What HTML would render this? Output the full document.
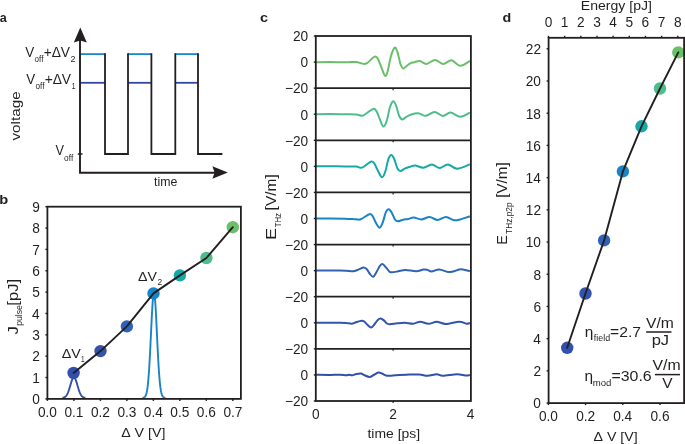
<!DOCTYPE html>
<html><head><meta charset="utf-8"><style>
html,body{margin:0;padding:0;background:#fff;}
svg{display:block;will-change:transform;}
text{font-family:"Liberation Sans", sans-serif;fill:#231f20;font-kerning:none;}
</style></head><body>
<svg width="685" height="444" viewBox="0 0 685 444">
<rect width="685" height="444" fill="#fff"/>
<text transform="translate(-0.17,22.1) scale(0.9239,1.0000)" font-size="13.6" font-weight="bold">a</text>
<line x1="80" y1="54.1" x2="105" y2="54.1" stroke="#1a8acb" stroke-width="1.8"/>
<line x1="80" y1="82.8" x2="105" y2="82.8" stroke="#3148a0" stroke-width="1.8"/>
<line x1="128" y1="54.1" x2="151.4" y2="54.1" stroke="#1a8acb" stroke-width="1.8"/>
<line x1="128" y1="82.8" x2="151.4" y2="82.8" stroke="#3148a0" stroke-width="1.8"/>
<line x1="175.3" y1="54.1" x2="198" y2="54.1" stroke="#1a8acb" stroke-width="1.8"/>
<line x1="175.3" y1="82.8" x2="198" y2="82.8" stroke="#3148a0" stroke-width="1.8"/>
<path d="M105,53.2 V154 H128 V53.2 M151.4,53.2 V154 H175.3 V53.2 M198,53.2 V154 H222.4" fill="none" stroke="#231f20" stroke-width="1.8"/>
<path d="M80,40 V172.7 H215" fill="none" stroke="#231f20" stroke-width="1.9"/>
<path d="M80.3,27.6 L86.8,42.6 L80.3,40.4 L73.8,42.6 Z" fill="#231f20"/>
<path d="M227.8,172.6 L212.4,178.8 L214.6,172.6 L212.4,166.3 Z" fill="#231f20"/>
<line x1="77.8" y1="154" x2="82.5" y2="154" stroke="#231f20" stroke-width="1.5"/>
<text transform="translate(25.24,56.9) scale(0.9798,1.0000)" font-size="13.8">V</text>
<text transform="translate(34.46,61.6) scale(0.9557,1.0000)" font-size="8.4">off</text>
<text transform="translate(43.63,56.9) scale(0.9982,1.0000)" font-size="13.8">+ΔV</text>
<text transform="translate(70.45,61.6) scale(1.0714,1.0000)" font-size="8.4">2</text>
<text transform="translate(26.14,84) scale(0.9688,1.0000)" font-size="13.8">V</text>
<text transform="translate(35.46,88.8) scale(0.9779,1.0000)" font-size="8.4">off</text>
<text transform="translate(44.63,84) scale(0.9982,1.0000)" font-size="13.8">+ΔV</text>
<text transform="translate(71.69,88.6) scale(0.8007,1.0000)" font-size="8.4">1</text>
<text transform="translate(55.44,155.3) scale(0.9248,1.0000)" font-size="13.8">V</text>
<text transform="translate(64.05,160.6) scale(0.9890,1.0000)" font-size="8.4">off</text>
<text transform="translate(19.5,140.55) rotate(-90) scale(1.1566,1.0000)" font-size="13.2">voltage</text>
<text transform="translate(154.11,186.1) scale(0.9288,1.0000)" font-size="13.3">time</text>
<text transform="translate(-0.77,204.3) scale(1.0798,1.0000)" font-size="13.6" font-weight="bold">b</text>
<path d="M62.39,397.78 L62.77,397.73 L63.16,397.66 L63.54,397.57 L63.92,397.46 L64.31,397.31 L64.69,397.12 L65.07,396.88 L65.46,396.58 L65.84,396.22 L66.22,395.78 L66.61,395.25 L66.99,394.63 L67.37,393.92 L67.76,393.1 L68.14,392.17 L68.52,391.15 L68.91,390.04 L69.29,388.84 L69.67,387.58 L70.06,386.27 L70.44,384.95 L70.82,383.64 L71.21,382.37 L71.59,381.18 L71.97,380.11 L72.36,379.18 L72.74,378.42 L73.12,377.86 L73.51,377.52 L73.89,377.4 L74.27,377.52 L74.66,377.86 L75.04,378.42 L75.42,379.18 L75.81,380.11 L76.19,381.18 L76.57,382.37 L76.96,383.64 L77.34,384.95 L77.72,386.27 L78.11,387.58 L78.49,388.84 L78.87,390.04 L79.26,391.15 L79.64,392.17 L80.02,393.1 L80.41,393.92 L80.79,394.63 L81.17,395.25 L81.56,395.78 L81.94,396.22 L82.32,396.58 L82.71,396.88 L83.09,397.12 L83.47,397.31 L83.86,397.46 L84.24,397.57 L84.62,397.66 L85.01,397.73 L85.39,397.78" fill="none" stroke="#324fab" stroke-width="1.9" stroke-linejoin="round"/>
<path d="M142.46,397.83 L142.84,397.79 L143.23,397.73 L143.61,397.63 L143.99,397.48 L144.38,397.26 L144.76,396.95 L145.14,396.5 L145.53,395.88 L145.91,395.03 L146.29,393.89 L146.68,392.39 L147.06,390.44 L147.44,387.98 L147.83,384.91 L148.21,381.17 L148.59,376.7 L148.98,371.47 L149.36,365.49 L149.74,358.8 L150.13,351.49 L150.51,343.7 L150.89,335.63 L151.28,327.52 L151.66,319.64 L152.04,312.28 L152.43,305.76 L152.81,300.34 L153.19,296.27 L153.58,293.75 L153.96,292.9 L154.34,293.75 L154.73,296.27 L155.11,300.34 L155.49,305.76 L155.88,312.28 L156.26,319.64 L156.64,327.52 L157.03,335.63 L157.41,343.7 L157.79,351.49 L158.18,358.8 L158.56,365.49 L158.94,371.47 L159.33,376.7 L159.71,381.17 L160.09,384.91 L160.48,387.98 L160.86,390.44 L161.24,392.39 L161.63,393.89 L162.01,395.03 L162.39,395.88 L162.78,396.5 L163.16,396.95 L163.54,397.26 L163.93,397.48 L164.31,397.63 L164.69,397.73 L165.08,397.79 L165.46,397.83" fill="none" stroke="#1a84c8" stroke-width="1.9" stroke-linejoin="round"/>
<rect x="47.4" y="206.7" width="193.5" height="192.2" fill="none" stroke="#231f20" stroke-width="1.8"/>
<line x1="45.4" y1="398.9" x2="47.4" y2="398.9" stroke="#231f20" stroke-width="1.4"/>
<text transform="translate(32.22,404.2) scale(1.0000,1.0300)" font-size="13.7">0</text>
<line x1="45.4" y1="377.54" x2="47.4" y2="377.54" stroke="#231f20" stroke-width="1.4"/>
<text transform="translate(32.35,382.84) scale(1.0000,1.0300)" font-size="13.7">1</text>
<line x1="45.4" y1="356.19" x2="47.4" y2="356.19" stroke="#231f20" stroke-width="1.4"/>
<text transform="translate(32.37,361.49) scale(1.0000,1.0300)" font-size="13.7">2</text>
<line x1="45.4" y1="334.83" x2="47.4" y2="334.83" stroke="#231f20" stroke-width="1.4"/>
<text transform="translate(32.28,340.13) scale(1.0000,1.0300)" font-size="13.7">3</text>
<line x1="45.4" y1="313.48" x2="47.4" y2="313.48" stroke="#231f20" stroke-width="1.4"/>
<text transform="translate(32.08,318.78) scale(1.0000,1.0300)" font-size="13.7">4</text>
<line x1="45.4" y1="292.12" x2="47.4" y2="292.12" stroke="#231f20" stroke-width="1.4"/>
<text transform="translate(32.26,297.42) scale(1.0000,1.0300)" font-size="13.7">5</text>
<line x1="45.4" y1="270.77" x2="47.4" y2="270.77" stroke="#231f20" stroke-width="1.4"/>
<text transform="translate(32.28,276.07) scale(1.0000,1.0300)" font-size="13.7">6</text>
<line x1="45.4" y1="249.41" x2="47.4" y2="249.41" stroke="#231f20" stroke-width="1.4"/>
<text transform="translate(32.37,254.71) scale(1.0000,1.0300)" font-size="13.7">7</text>
<line x1="45.4" y1="228.06" x2="47.4" y2="228.06" stroke="#231f20" stroke-width="1.4"/>
<text transform="translate(32.28,233.36) scale(1.0000,1.0300)" font-size="13.7">8</text>
<line x1="45.4" y1="206.7" x2="47.4" y2="206.7" stroke="#231f20" stroke-width="1.4"/>
<text transform="translate(32.33,212) scale(1.0000,1.0300)" font-size="13.7">9</text>
<line x1="47.4" y1="398.9" x2="47.4" y2="400.9" stroke="#231f20" stroke-width="1.4"/>
<text transform="translate(37.88,416.9) scale(1.0000,1.0300)" font-size="13.7">0.0</text>
<line x1="73.89" y1="398.9" x2="73.89" y2="400.9" stroke="#231f20" stroke-width="1.4"/>
<text transform="translate(64.43,416.9) scale(1.0000,1.0300)" font-size="13.7">0.1</text>
<line x1="100.38" y1="398.9" x2="100.38" y2="400.9" stroke="#231f20" stroke-width="1.4"/>
<text transform="translate(90.93,416.9) scale(1.0000,1.0300)" font-size="13.7">0.2</text>
<line x1="126.87" y1="398.9" x2="126.87" y2="400.9" stroke="#231f20" stroke-width="1.4"/>
<text transform="translate(117.38,416.9) scale(1.0000,1.0300)" font-size="13.7">0.3</text>
<line x1="153.36" y1="398.9" x2="153.36" y2="400.9" stroke="#231f20" stroke-width="1.4"/>
<text transform="translate(143.77,416.9) scale(1.0000,1.0300)" font-size="13.7">0.4</text>
<line x1="179.85" y1="398.9" x2="179.85" y2="400.9" stroke="#231f20" stroke-width="1.4"/>
<text transform="translate(170.35,416.9) scale(1.0000,1.0300)" font-size="13.7">0.5</text>
<line x1="206.34" y1="398.9" x2="206.34" y2="400.9" stroke="#231f20" stroke-width="1.4"/>
<text transform="translate(196.85,416.9) scale(1.0000,1.0300)" font-size="13.7">0.6</text>
<line x1="232.83" y1="398.9" x2="232.83" y2="400.9" stroke="#231f20" stroke-width="1.4"/>
<text transform="translate(223.38,416.9) scale(1.0000,1.0300)" font-size="13.7">0.7</text>
<circle cx="73.6" cy="373" r="6.2" fill="#324fab"/>
<circle cx="100.5" cy="351.1" r="6.2" fill="#3254ad"/>
<circle cx="126.9" cy="326.4" r="6.2" fill="#2f62b7"/>
<circle cx="153.5" cy="293.4" r="6.2" fill="#1a84c8"/>
<circle cx="179.9" cy="275.4" r="6.2" fill="#17a8a8"/>
<circle cx="206.4" cy="258" r="6.2" fill="#4ebd8c"/>
<circle cx="232.8" cy="227.2" r="6.2" fill="#6abf69"/>
<polyline points="73.6,373 100.5,351.1 126.9,326.4 153.5,293.4 179.9,275.4 206.4,258 232.8,227.2" fill="none" stroke="#231f20" stroke-width="1.9" stroke-linejoin="round" stroke-linecap="round"/>
<text transform="translate(61.77,357.5) scale(1.0437,1.0000)" font-size="13.7">ΔV</text>
<text transform="translate(81.01,361.8) scale(0.7731,1.0000)" font-size="8.4">1</text>
<text transform="translate(138.08,280.6) scale(1.0325,1.0000)" font-size="13.7">ΔV</text>
<text transform="translate(157.38,284.9)" font-size="8.4">2</text>
<text transform="translate(121.18,437.3) scale(1.0448,1.0000)" font-size="13.6">Δ V [V]</text>
<text transform="translate(17.9,334.46) rotate(-90) scale(1.2190,1.0000)" font-size="13.8">J</text>
<text transform="translate(22.2,325.76) rotate(-90) scale(1.0278,1.0000)" font-size="8.4">pulse</text>
<text transform="translate(17.8,305.69) rotate(-90) scale(1.2084,1.0000)" font-size="13.8">[pJ]</text>
<text transform="translate(260.03,22) scale(1.0702,1.0000)" font-size="13.6" font-weight="bold">c</text>
<defs><clipPath id="cc"><rect x="315.8" y="36" width="155.1" height="365"/></clipPath></defs>
<path d="M316,62.2 C318.33,62.17 325.17,61.98 330,62 C334.83,62.02 340.65,62.3 345,62.3 C349.35,62.3 353.57,61.88 356.1,62 C358.63,62.12 358.75,62.67 360.2,63 C361.65,63.33 363.52,64.08 364.8,64 C366.08,63.92 366.28,63.73 367.9,62.5 C369.52,61.27 372.88,57.28 374.5,56.6 C376.12,55.92 376.57,56.92 377.6,58.4 C378.63,59.88 379.47,62.6 380.7,65.5 C381.93,68.4 383.82,74.93 385,75.8 C386.18,76.67 386.82,73.95 387.8,70.7 C388.78,67.45 389.75,60.13 390.9,56.3 C392.05,52.47 393.6,48.37 394.7,47.7 C395.8,47.03 396.52,49.5 397.5,52.3 C398.48,55.1 399.62,61.82 400.6,64.5 C401.58,67.18 402.3,68.23 403.4,68.4 C404.5,68.57 406.05,66.35 407.2,65.5 C408.35,64.65 409.13,63.83 410.3,63.3 C411.47,62.77 412.62,62.68 414.2,62.3 C415.78,61.92 417.75,60.72 419.8,61 C421.85,61.28 423.95,64.18 426.5,64 C429.05,63.82 432.3,59.9 435.1,59.9 C437.9,59.9 440.57,63.95 443.3,64 C446.03,64.05 448.68,59.9 451.5,60.2 C454.32,60.5 457.13,65.68 460.2,65.8 C463.27,65.92 468.28,61.72 469.9,60.9" fill="none" stroke="#6abf69" stroke-width="2" stroke-linejoin="round" clip-path="url(#cc)"/>
<path d="M316,114.2 C318.33,114.17 325.17,113.98 330,114 C334.83,114.02 340.65,114.22 345,114.3 C349.35,114.38 353.22,114.27 356.1,114.5 C358.98,114.73 360.6,115.87 362.3,115.7 C364,115.53 364.47,114.63 366.3,113.5 C368.13,112.37 371.58,109.25 373.3,108.9 C375.02,108.55 375.55,109.78 376.6,111.4 C377.65,113.02 378.5,116.08 379.6,118.6 C380.7,121.12 382,126.17 383.2,126.5 C384.4,126.83 385.68,123.8 386.8,120.6 C387.92,117.4 388.85,110.53 389.9,107.3 C390.95,104.07 392.08,101.53 393.1,101.2 C394.12,100.87 395.02,102.92 396,105.3 C396.98,107.68 397.98,113.15 399,115.5 C400.02,117.85 400.9,119.15 402.1,119.4 C403.3,119.65 404.78,117.78 406.2,117 C407.62,116.22 408.58,115.32 410.6,114.7 C412.62,114.08 415.75,113.12 418.3,113.3 C420.85,113.48 423.18,116.03 425.9,115.8 C428.62,115.57 431.78,111.87 434.6,111.9 C437.42,111.93 440.15,115.88 442.8,116 C445.45,116.12 447.6,112.47 450.5,112.6 C453.4,112.73 456.97,116.78 460.2,116.8 C463.43,116.82 468.28,113.38 469.9,112.7" fill="none" stroke="#4ebd8c" stroke-width="2" stroke-linejoin="round" clip-path="url(#cc)"/>
<path d="M316,166.3 C318.33,166.28 325.17,166.18 330,166.2 C334.83,166.22 340.65,166.35 345,166.4 C349.35,166.45 353.57,166.28 356.1,166.5 C358.63,166.72 359,167.62 360.2,167.7 C361.4,167.78 361.52,168.02 363.3,167 C365.08,165.98 369.12,162.28 370.9,161.6 C372.68,160.92 372.88,161.48 374,162.9 C375.12,164.32 376.28,167.72 377.6,170.1 C378.92,172.48 380.62,176.95 381.9,177.2 C383.18,177.45 384.23,174.58 385.3,171.6 C386.37,168.62 387.33,162.07 388.3,159.3 C389.27,156.53 390.17,155.17 391.1,155 C392.03,154.83 392.83,156.05 393.9,158.3 C394.97,160.55 396.42,166.37 397.5,168.5 C398.58,170.63 399.12,171.13 400.4,171.1 C401.68,171.07 403.55,169.03 405.2,168.3 C406.85,167.57 408.63,167.17 410.3,166.7 C411.97,166.23 413.02,165.33 415.2,165.5 C417.38,165.67 420.63,167.88 423.4,167.7 C426.17,167.52 429.08,164.35 431.8,164.4 C434.52,164.45 437.02,168 439.7,168 C442.38,168 445,164.28 447.9,164.4 C450.8,164.52 453.43,168.7 457.1,168.7 C460.77,168.7 467.77,165.12 469.9,164.4" fill="none" stroke="#17a8a8" stroke-width="2" stroke-linejoin="round" clip-path="url(#cc)"/>
<path d="M316,218.5 C318.33,218.48 325.17,218.37 330,218.4 C334.83,218.43 340.65,218.55 345,218.7 C349.35,218.85 353.48,219.2 356.1,219.3 C358.72,219.4 358.48,220.15 360.7,219.3 C362.92,218.45 367.43,214.77 369.4,214.2 C371.37,213.63 371.48,214.58 372.5,215.9 C373.52,217.22 374.32,220.13 375.5,222.1 C376.68,224.07 378.4,227.62 379.6,227.7 C380.8,227.78 381.67,225.17 382.7,222.6 C383.73,220.03 384.78,214.52 385.8,212.3 C386.82,210.08 387.78,209.2 388.8,209.3 C389.82,209.4 390.87,211.2 391.9,212.9 C392.93,214.6 394.02,218.1 395,219.5 C395.98,220.9 396.45,221.27 397.8,221.3 C399.15,221.33 401.37,220.08 403.1,219.7 C404.83,219.32 406.43,219.37 408.2,219 C409.97,218.63 411.5,217.42 413.7,217.5 C415.9,217.58 418.77,219.58 421.4,219.5 C424.03,219.42 426.78,216.92 429.5,217 C432.22,217.08 434.97,220 437.7,220 C440.43,220 443.18,216.97 445.9,217 C448.62,217.03 451.78,219.75 454,220.2 C456.22,220.65 456.8,220.28 459.2,219.7 C461.6,219.12 466.62,217.2 468.4,216.7 C470.18,216.2 469.65,216.7 469.9,216.7" fill="none" stroke="#1a84c8" stroke-width="2" stroke-linejoin="round" clip-path="url(#cc)"/>
<path d="M316,270.5 C318.33,270.52 326,270.6 330,270.6 C334,270.6 337.32,270.48 340,270.5 C342.68,270.52 343.88,270.57 346.1,270.7 C348.32,270.83 351.42,271.42 353.3,271.3 C355.18,271.18 355.73,270.62 357.4,270 C359.07,269.38 361.77,267.77 363.3,267.6 C364.83,267.43 365.55,268.02 366.6,269 C367.65,269.98 368.5,272.2 369.6,273.5 C370.7,274.8 372,277.13 373.2,276.8 C374.4,276.47 375.68,273.32 376.8,271.5 C377.92,269.68 378.92,267.13 379.9,265.9 C380.88,264.67 381.68,263.85 382.7,264.1 C383.72,264.35 384.85,266.13 386,267.4 C387.15,268.67 388.58,270.88 389.6,271.7 C390.62,272.52 390.67,272.37 392.1,272.3 C393.53,272.23 395.98,271.7 398.2,271.3 C400.42,270.9 402.4,269.9 405.4,269.9 C408.4,269.9 413.2,271.37 416.2,271.3 C419.2,271.23 421.52,269.73 423.4,269.5 C425.28,269.27 426.13,269.57 427.5,269.9 C428.87,270.23 429.65,271.57 431.6,271.5 C433.55,271.43 436.48,269.42 439.2,269.5 C441.92,269.58 445.6,271.67 447.9,272 C450.2,272.33 450.78,271.97 453,271.5 C455.22,271.03 458.38,269.23 461.2,269.2 C464.02,269.17 468.45,270.95 469.9,271.3" fill="none" stroke="#2f62b7" stroke-width="2" stroke-linejoin="round" clip-path="url(#cc)"/>
<path d="M316,322.7 C318.33,322.72 326,322.8 330,322.8 C334,322.8 337.32,322.67 340,322.7 C342.68,322.73 344.13,322.83 346.1,323 C348.07,323.17 350.27,323.78 351.8,323.7 C353.33,323.62 353.68,323 355.3,322.5 C356.92,322 359.97,320.83 361.5,320.7 C363.03,320.57 363.48,320.98 364.5,321.7 C365.52,322.42 366.48,324.05 367.6,325 C368.72,325.95 370.02,327.57 371.2,327.4 C372.38,327.23 373.6,325.25 374.7,324 C375.8,322.75 376.8,320.8 377.8,319.9 C378.8,319 379.68,318.52 380.7,318.6 C381.72,318.68 382.85,319.58 383.9,320.4 C384.95,321.22 385.97,322.85 387,323.5 C388.03,324.15 388.4,324.33 390.1,324.3 C391.8,324.27 394.72,323.57 397.2,323.3 C399.68,323.03 402.33,322.63 405,322.7 C407.67,322.77 410.65,323.87 413.2,323.7 C415.75,323.53 417.75,321.68 420.3,321.7 C422.85,321.72 425.77,323.78 428.5,323.8 C431.23,323.82 433.8,321.77 436.7,321.8 C439.6,321.83 442.15,324.02 445.9,324 C449.65,323.98 455.8,321.75 459.2,321.7 C462.6,321.65 464.52,323.47 466.3,323.7 C468.08,323.93 469.3,323.2 469.9,323.1" fill="none" stroke="#3254ad" stroke-width="2" stroke-linejoin="round" clip-path="url(#cc)"/>
<path d="M316,374.8 C318.33,374.82 326,374.92 330,374.9 C334,374.88 337.32,374.63 340,374.7 C342.68,374.77 344.57,375.3 346.1,375.3 C347.63,375.3 348.17,374.7 349.2,374.7 C350.23,374.7 351.1,375.42 352.3,375.3 C353.5,375.18 354.97,374.3 356.4,374 C357.83,373.7 359.55,373.28 360.9,373.5 C362.25,373.72 363.05,374.72 364.5,375.3 C365.95,375.88 368.07,377.05 369.6,377 C371.13,376.95 372.25,375.73 373.7,375 C375.15,374.27 376.93,372.85 378.3,372.6 C379.67,372.35 380.62,373.02 381.9,373.5 C383.18,373.98 384.47,375.13 386,375.5 C387.53,375.87 388.88,375.78 391.1,375.7 C393.32,375.62 396.75,375.17 399.3,375 C401.85,374.83 403.07,374.78 406.4,374.7 C409.73,374.62 415.78,374.33 419.3,374.5 C422.82,374.67 424.6,375.73 427.5,375.7 C430.4,375.67 434.15,374.3 436.7,374.3 C439.25,374.3 439.4,375.7 442.8,375.7 C446.2,375.7 453.35,374.33 457.1,374.3 C460.85,374.27 463.17,375.37 465.3,375.5 C467.43,375.63 469.13,375.17 469.9,375.1" fill="none" stroke="#324fab" stroke-width="2" stroke-linejoin="round" clip-path="url(#cc)"/>
<rect x="315.8" y="36" width="155.1" height="365" fill="none" stroke="#231f20" stroke-width="1.8"/>
<line x1="315.8" y1="88.14" x2="470.9" y2="88.14" stroke="#231f20" stroke-width="1.8"/>
<line x1="315.8" y1="140.29" x2="470.9" y2="140.29" stroke="#231f20" stroke-width="1.8"/>
<line x1="315.8" y1="192.43" x2="470.9" y2="192.43" stroke="#231f20" stroke-width="1.8"/>
<line x1="315.8" y1="244.57" x2="470.9" y2="244.57" stroke="#231f20" stroke-width="1.8"/>
<line x1="315.8" y1="296.71" x2="470.9" y2="296.71" stroke="#231f20" stroke-width="1.8"/>
<line x1="315.8" y1="348.86" x2="470.9" y2="348.86" stroke="#231f20" stroke-width="1.8"/>
<text transform="translate(292.9,41.3) scale(1.0000,1.0300)" font-size="13.7">20</text>
<line x1="313.8" y1="36" x2="315.8" y2="36" stroke="#231f20" stroke-width="1.4"/>
<text transform="translate(300.52,67.37) scale(1.0000,1.0300)" font-size="13.7">0</text>
<text transform="translate(284.9,93.44) scale(1.0000,1.0300)" font-size="13.7">−20</text>
<line x1="313.8" y1="62.07" x2="315.8" y2="62.07" stroke="#231f20" stroke-width="1.4"/>
<line x1="313.8" y1="88.14" x2="315.8" y2="88.14" stroke="#231f20" stroke-width="1.4"/>
<line x1="393.1" y1="88.14" x2="393.1" y2="90.14" stroke="#231f20" stroke-width="1.2"/>
<text transform="translate(300.52,119.51) scale(1.0000,1.0300)" font-size="13.7">0</text>
<text transform="translate(284.9,145.59) scale(1.0000,1.0300)" font-size="13.7">−20</text>
<line x1="313.8" y1="114.21" x2="315.8" y2="114.21" stroke="#231f20" stroke-width="1.4"/>
<line x1="313.8" y1="140.29" x2="315.8" y2="140.29" stroke="#231f20" stroke-width="1.4"/>
<line x1="393.1" y1="140.29" x2="393.1" y2="142.29" stroke="#231f20" stroke-width="1.2"/>
<text transform="translate(300.52,171.66) scale(1.0000,1.0300)" font-size="13.7">0</text>
<text transform="translate(284.9,197.73) scale(1.0000,1.0300)" font-size="13.7">−20</text>
<line x1="313.8" y1="166.36" x2="315.8" y2="166.36" stroke="#231f20" stroke-width="1.4"/>
<line x1="313.8" y1="192.43" x2="315.8" y2="192.43" stroke="#231f20" stroke-width="1.4"/>
<line x1="393.1" y1="192.43" x2="393.1" y2="194.43" stroke="#231f20" stroke-width="1.2"/>
<text transform="translate(300.52,223.8) scale(1.0000,1.0300)" font-size="13.7">0</text>
<text transform="translate(284.9,249.87) scale(1.0000,1.0300)" font-size="13.7">−20</text>
<line x1="313.8" y1="218.5" x2="315.8" y2="218.5" stroke="#231f20" stroke-width="1.4"/>
<line x1="313.8" y1="244.57" x2="315.8" y2="244.57" stroke="#231f20" stroke-width="1.4"/>
<line x1="393.1" y1="244.57" x2="393.1" y2="246.57" stroke="#231f20" stroke-width="1.2"/>
<text transform="translate(300.52,275.94) scale(1.0000,1.0300)" font-size="13.7">0</text>
<text transform="translate(284.9,302.01) scale(1.0000,1.0300)" font-size="13.7">−20</text>
<line x1="313.8" y1="270.64" x2="315.8" y2="270.64" stroke="#231f20" stroke-width="1.4"/>
<line x1="313.8" y1="296.71" x2="315.8" y2="296.71" stroke="#231f20" stroke-width="1.4"/>
<line x1="393.1" y1="296.71" x2="393.1" y2="298.71" stroke="#231f20" stroke-width="1.2"/>
<text transform="translate(300.52,328.09) scale(1.0000,1.0300)" font-size="13.7">0</text>
<text transform="translate(284.9,354.16) scale(1.0000,1.0300)" font-size="13.7">−20</text>
<line x1="313.8" y1="322.79" x2="315.8" y2="322.79" stroke="#231f20" stroke-width="1.4"/>
<line x1="313.8" y1="348.86" x2="315.8" y2="348.86" stroke="#231f20" stroke-width="1.4"/>
<line x1="393.1" y1="348.86" x2="393.1" y2="350.86" stroke="#231f20" stroke-width="1.2"/>
<text transform="translate(300.52,380.23) scale(1.0000,1.0300)" font-size="13.7">0</text>
<text transform="translate(284.9,406.3) scale(1.0000,1.0300)" font-size="13.7">−20</text>
<line x1="313.8" y1="374.93" x2="315.8" y2="374.93" stroke="#231f20" stroke-width="1.4"/>
<line x1="313.8" y1="401" x2="315.8" y2="401" stroke="#231f20" stroke-width="1.4"/>
<line x1="393.1" y1="401" x2="393.1" y2="403" stroke="#231f20" stroke-width="1.2"/>
<text transform="translate(311.99,418.9) scale(1.0000,1.0300)" font-size="13.7">0</text>
<text transform="translate(389.29,418.9) scale(1.0000,1.0300)" font-size="13.7">2</text>
<text transform="translate(466.63,418.9) scale(1.0000,1.0300)" font-size="13.7">4</text>
<text transform="translate(367.49,438.4) scale(1.0181,1.0000)" font-size="13.7">time [ps]</text>
<text transform="translate(276.3,239.88) rotate(-90) scale(1.3102,1.0000)" font-size="13.8">E</text>
<text transform="translate(281.2,227.17) rotate(-90) scale(0.9195,1.0000)" font-size="8.4">THz</text>
<text transform="translate(275.9,210.4) rotate(-90) scale(1.1212,1.0000)" font-size="13.8">[V/m]</text>
<text transform="translate(502.41,21.8) scale(1.0506,1.0000)" font-size="13.6" font-weight="bold">d</text>
<line x1="546.6" y1="403.1" x2="548.6" y2="403.1" stroke="#231f20" stroke-width="1.4"/>
<text transform="translate(533.32,408.4) scale(1.0000,1.0300)" font-size="13.7">0</text>
<line x1="546.6" y1="370.89" x2="548.6" y2="370.89" stroke="#231f20" stroke-width="1.4"/>
<text transform="translate(533.47,376.19) scale(1.0000,1.0300)" font-size="13.7">2</text>
<line x1="546.6" y1="338.68" x2="548.6" y2="338.68" stroke="#231f20" stroke-width="1.4"/>
<text transform="translate(533.18,343.98) scale(1.0000,1.0300)" font-size="13.7">4</text>
<line x1="546.6" y1="306.47" x2="548.6" y2="306.47" stroke="#231f20" stroke-width="1.4"/>
<text transform="translate(533.38,311.77) scale(1.0000,1.0300)" font-size="13.7">6</text>
<line x1="546.6" y1="274.26" x2="548.6" y2="274.26" stroke="#231f20" stroke-width="1.4"/>
<text transform="translate(533.38,279.56) scale(1.0000,1.0300)" font-size="13.7">8</text>
<line x1="546.6" y1="242.05" x2="548.6" y2="242.05" stroke="#231f20" stroke-width="1.4"/>
<text transform="translate(525.7,247.35) scale(1.0000,1.0300)" font-size="13.7">10</text>
<line x1="546.6" y1="209.84" x2="548.6" y2="209.84" stroke="#231f20" stroke-width="1.4"/>
<text transform="translate(525.85,215.14) scale(1.0000,1.0300)" font-size="13.7">12</text>
<line x1="546.6" y1="177.63" x2="548.6" y2="177.63" stroke="#231f20" stroke-width="1.4"/>
<text transform="translate(525.56,182.93) scale(1.0000,1.0300)" font-size="13.7">14</text>
<line x1="546.6" y1="145.42" x2="548.6" y2="145.42" stroke="#231f20" stroke-width="1.4"/>
<text transform="translate(525.76,150.72) scale(1.0000,1.0300)" font-size="13.7">16</text>
<line x1="546.6" y1="113.21" x2="548.6" y2="113.21" stroke="#231f20" stroke-width="1.4"/>
<text transform="translate(525.76,118.51) scale(1.0000,1.0300)" font-size="13.7">18</text>
<line x1="546.6" y1="81" x2="548.6" y2="81" stroke="#231f20" stroke-width="1.4"/>
<text transform="translate(525.7,86.3) scale(1.0000,1.0300)" font-size="13.7">20</text>
<line x1="546.6" y1="48.79" x2="548.6" y2="48.79" stroke="#231f20" stroke-width="1.4"/>
<text transform="translate(525.85,54.09) scale(1.0000,1.0300)" font-size="13.7">22</text>
<line x1="548.4" y1="403.1" x2="548.4" y2="405.1" stroke="#231f20" stroke-width="1.4"/>
<text transform="translate(538.88,421.1) scale(1.0000,1.0300)" font-size="13.7">0.0</text>
<line x1="585.6" y1="403.1" x2="585.6" y2="405.1" stroke="#231f20" stroke-width="1.4"/>
<text transform="translate(576.15,421.1) scale(1.0000,1.0300)" font-size="13.7">0.2</text>
<line x1="622.8" y1="403.1" x2="622.8" y2="405.1" stroke="#231f20" stroke-width="1.4"/>
<text transform="translate(613.21,421.1) scale(1.0000,1.0300)" font-size="13.7">0.4</text>
<line x1="660" y1="403.1" x2="660" y2="405.1" stroke="#231f20" stroke-width="1.4"/>
<text transform="translate(650.51,421.1) scale(1.0000,1.0300)" font-size="13.7">0.6</text>
<line x1="548.5" y1="35.8" x2="548.5" y2="37.8" stroke="#231f20" stroke-width="1.4"/>
<text transform="translate(544.69,27.4) scale(1.0000,1.0300)" font-size="13.7">0</text>
<line x1="564.66" y1="35.8" x2="564.66" y2="37.8" stroke="#231f20" stroke-width="1.4"/>
<text transform="translate(560.66,27.4) scale(1.0000,1.0300)" font-size="13.7">1</text>
<line x1="580.82" y1="35.8" x2="580.82" y2="37.8" stroke="#231f20" stroke-width="1.4"/>
<text transform="translate(577.01,27.4) scale(1.0000,1.0300)" font-size="13.7">2</text>
<line x1="596.98" y1="35.8" x2="596.98" y2="37.8" stroke="#231f20" stroke-width="1.4"/>
<text transform="translate(593.21,27.4) scale(1.0000,1.0300)" font-size="13.7">3</text>
<line x1="613.14" y1="35.8" x2="613.14" y2="37.8" stroke="#231f20" stroke-width="1.4"/>
<text transform="translate(609.37,27.4) scale(1.0000,1.0300)" font-size="13.7">4</text>
<line x1="629.3" y1="35.8" x2="629.3" y2="37.8" stroke="#231f20" stroke-width="1.4"/>
<text transform="translate(625.5,27.4) scale(1.0000,1.0300)" font-size="13.7">5</text>
<line x1="645.46" y1="35.8" x2="645.46" y2="37.8" stroke="#231f20" stroke-width="1.4"/>
<text transform="translate(641.6,27.4) scale(1.0000,1.0300)" font-size="13.7">6</text>
<line x1="661.62" y1="35.8" x2="661.62" y2="37.8" stroke="#231f20" stroke-width="1.4"/>
<text transform="translate(657.8,27.4) scale(1.0000,1.0300)" font-size="13.7">7</text>
<line x1="677.78" y1="35.8" x2="677.78" y2="37.8" stroke="#231f20" stroke-width="1.4"/>
<text transform="translate(673.97,27.4) scale(1.0000,1.0300)" font-size="13.7">8</text>
<text transform="translate(580.85,10.3) scale(1.0344,1.0000)" font-size="13.6">Energy [pJ]</text>
<circle cx="567.2" cy="347.8" r="6.2" fill="#324fab"/>
<circle cx="585.5" cy="293.5" r="6.2" fill="#3254ad"/>
<circle cx="604.1" cy="240.4" r="6.2" fill="#2f62b7"/>
<circle cx="622.9" cy="171.4" r="6.2" fill="#1a84c8"/>
<circle cx="641.5" cy="126.3" r="6.2" fill="#17a8a8"/>
<circle cx="660" cy="88.5" r="6.2" fill="#4ebd8c"/>
<circle cx="678.3" cy="52.4" r="6.2" fill="#6abf69"/>
<polyline points="567.2,347.8 585.5,293.5 604.1,240.4 622.9,171.4 641.5,126.3 660,88.5 678.3,52.4" fill="none" stroke="#231f20" stroke-width="1.9" stroke-linejoin="round" stroke-linecap="round"/>
<rect x="548.6" y="37.8" width="135.5" height="365.3" fill="none" stroke="#231f20" stroke-width="1.8"/>
<text transform="translate(584.8,337)" font-size="15.4">η</text>
<text transform="translate(593.87,341.4) scale(1.0577,1.0000)" font-size="8.4">field</text>
<text transform="translate(610.03,337) scale(1.0216,1.0000)" font-size="15.4">=2.7</text>
<text transform="translate(645.93,327.6) scale(1.0192,1.0000)" font-size="15.4">V/m</text>
<line x1="646.1" y1="332" x2="671.5" y2="332" stroke="#231f20" stroke-width="1.5"/>
<text transform="translate(651.63,345.4) scale(1.0758,1.0000)" font-size="15.4">pJ</text>
<text transform="translate(584.6,381)" font-size="15.4">η</text>
<text transform="translate(592.76,386.4) scale(1.1416,1.0000)" font-size="8.4">mod</text>
<text transform="translate(611.42,381) scale(1.0336,1.0000)" font-size="15.4">=30.6</text>
<text transform="translate(652.43,370.3) scale(1.0306,1.0000)" font-size="15.4">V/m</text>
<line x1="654.9" y1="374.6" x2="680" y2="374.6" stroke="#231f20" stroke-width="1.5"/>
<text transform="translate(662.13,388.4) scale(1.0063,1.0000)" font-size="15.4">V</text>
<text transform="translate(593.58,441.4) scale(1.0423,1.0000)" font-size="13.6">Δ V [V]</text>
<text transform="translate(507,244.8) rotate(-90) scale(1.0562,1.0000)" font-size="13.8">E</text>
<text transform="translate(511.9,233.99) rotate(-90)" font-size="8.4">THz,p2p</text>
<text transform="translate(507,197.78) rotate(-90) scale(1.1014,1.0000)" font-size="13.8">[V/m]</text>
</svg>
</body></html>
